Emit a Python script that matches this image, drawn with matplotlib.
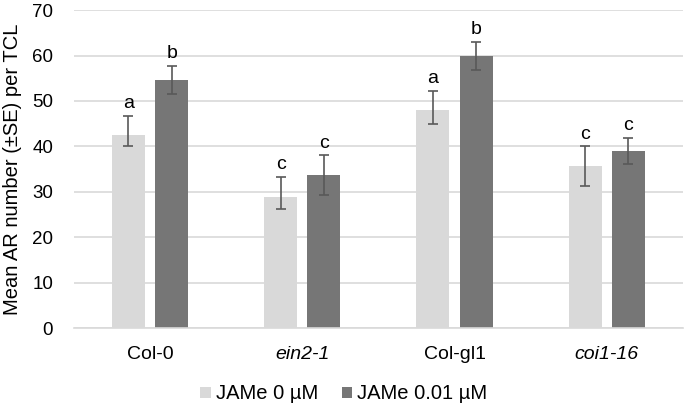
import numpy as np
import matplotlib.pyplot as plt

plt.rcParams['font.family'] = ['Liberation Sans', 'DejaVu Sans']

genotypes = ["Col-0", "ein2-1", "Col-gl1", "coi1-16"]
italic = [False, True, False, True]
series = ["JAMe 0 µM", "JAMe 0.01 µM"]
means_0 = [42.5, 28.9, 48.0, 35.6]
means_001 = [54.6, 33.7, 60.0, 39.0]
# error bar ends (low, high)
err_lo_0 = [40.0, 26.2, 45.0, 31.3]
err_hi_0 = [46.8, 33.3, 52.3, 40.0]
err_lo_001 = [51.5, 29.3, 56.9, 36.2]
err_hi_001 = [57.8, 38.0, 63.0, 41.9]
letters_0 = ["a", "c", "a", "c"]
letters_001 = ["b", "c", "b", "c"]

light = "#d9d9d9"
dark = "#767676"

fig = plt.figure(figsize=(6.85, 4.07), dpi=100)
ax = fig.add_axes([0.108, 0.194, 0.889, 0.781])

x = np.arange(len(genotypes))
w = 0.217
off = 0.142

for vals, lo, hi, lets, col, sign, lab in [
        (means_0, err_lo_0, err_hi_0, letters_0, light, -1, series[0]),
        (means_001, err_lo_001, err_hi_001, letters_001, dark, 1, series[1])]:
    vals = np.array(vals)
    yerr = [vals - np.array(lo), np.array(hi) - vals]
    ax.bar(x + sign * off, vals, w, color=col, label=lab, zorder=2)
    ax.errorbar(x + sign * off, vals, yerr=yerr, fmt="none", ecolor="#595959",
                elinewidth=1.2, capsize=3.5, capthick=1.2, zorder=3)
    for xi, h, t in zip(x + sign * off, hi, lets):
        ax.text(xi, h + 0.8, t, ha="center", va="bottom", fontsize=14, color="#000000")

ax.set_xlim(-0.5, len(genotypes) - 0.5)
ax.set_ylim(0, 70)
ax.set_yticks(range(0, 71, 10))
ax.yaxis.grid(True, color="#d9d9d9", linewidth=1.2, zorder=0)
ax.set_axisbelow(True)
for s in ["top", "right", "left"]:
    ax.spines[s].set_visible(False)
ax.spines["bottom"].set_color("#d9d9d9")
ax.spines["bottom"].set_linewidth(1.2)
ax.tick_params(axis="both", length=0, labelsize=13.5, colors="#000000")
ax.tick_params(axis="y", pad=15)
ax.tick_params(axis="x", pad=13)
ax.set_xticks(x)
ax.set_xticklabels(genotypes, fontsize=14)
for tl, it in zip(ax.get_xticklabels(), italic):
    if it:
        tl.set_style("italic")
ax.set_ylabel("Mean AR number (±SE) per TCL", fontsize=14.5)
ax.yaxis.set_label_coords(-0.085, 0.5)

fig.legend(loc="center", bbox_to_anchor=(0.502, 0.032), ncol=2, frameon=False,
           fontsize=14.5, handlelength=0.5, handleheight=0.5, handletextpad=0.25,
           columnspacing=1.2)

fig.savefig("out.png", dpi=100)
